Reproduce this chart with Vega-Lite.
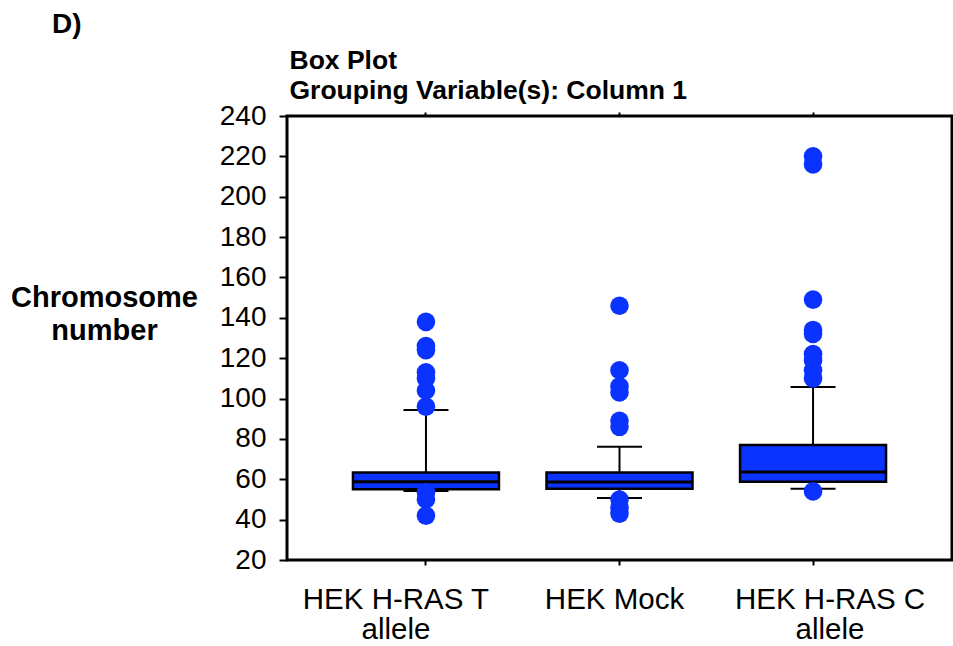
{
  "$schema": "https://vega.github.io/schema/vega-lite/v6.json",
  "width": 665,
  "height": 444,
  "autosize": "none",
  "padding": {"left": 287, "top": 116, "right": 1, "bottom": 86},
  "background": "white",
  "config": {
    "view": {"stroke": "black", "strokeWidth": 3},
    "font": "Liberation Sans"
  },
  "title": {
    "text": "D)",
    "anchor": "start",
    "frame": "group",
    "dx": -235,
    "offset": 8,
    "font": "Liberation Sans",
    "fontSize": 28,
    "fontWeight": "bold",
    "color": "black"
  },
  "datasets": {
    "summary": [
      {"group": "HEK H-RAS T allele", "lower": 54.2, "q1": 55.0, "median": 58.8, "q3": 63.3, "upper": 94.3},
      {"group": "HEK Mock", "lower": 50.7, "q1": 55.3, "median": 58.7, "q3": 63.3, "upper": 76.1},
      {"group": "HEK H-RAS C allele", "lower": 55.3, "q1": 58.8, "median": 63.6, "q3": 77.0, "upper": 105.7}
    ],
    "outliers": [
      {"group": "HEK H-RAS T allele", "value": 138},
      {"group": "HEK H-RAS T allele", "value": 126},
      {"group": "HEK H-RAS T allele", "value": 124},
      {"group": "HEK H-RAS T allele", "value": 113},
      {"group": "HEK H-RAS T allele", "value": 110},
      {"group": "HEK H-RAS T allele", "value": 104},
      {"group": "HEK H-RAS T allele", "value": 96},
      {"group": "HEK H-RAS T allele", "value": 53.5},
      {"group": "HEK H-RAS T allele", "value": 50},
      {"group": "HEK H-RAS T allele", "value": 42},
      {"group": "HEK Mock", "value": 146},
      {"group": "HEK Mock", "value": 114},
      {"group": "HEK Mock", "value": 106},
      {"group": "HEK Mock", "value": 103},
      {"group": "HEK Mock", "value": 89},
      {"group": "HEK Mock", "value": 86},
      {"group": "HEK Mock", "value": 50},
      {"group": "HEK Mock", "value": 46},
      {"group": "HEK Mock", "value": 43},
      {"group": "HEK H-RAS C allele", "value": 220},
      {"group": "HEK H-RAS C allele", "value": 216},
      {"group": "HEK H-RAS C allele", "value": 149},
      {"group": "HEK H-RAS C allele", "value": 134},
      {"group": "HEK H-RAS C allele", "value": 132},
      {"group": "HEK H-RAS C allele", "value": 122},
      {"group": "HEK H-RAS C allele", "value": 119},
      {"group": "HEK H-RAS C allele", "value": 114},
      {"group": "HEK H-RAS C allele", "value": 110},
      {"group": "HEK H-RAS C allele", "value": 54}
    ]
  },
  "layer": [
    {
      "data": {"name": "summary"},
      "mark": {"type": "rule", "color": "black", "strokeWidth": 2},
      "encoding": {
        "x": {
          "field": "group", "type": "nominal",
          "sort": ["HEK H-RAS T allele", "HEK Mock", "HEK H-RAS C allele"],
          "scale": {"type": "band", "paddingInner": 0, "paddingOuter": 0.218},
          "axis": {
            "orient": "bottom",
            "title": null,
            "domain": false,
            "ticks": true,
            "tickSize": 5,
            "tickWidth": 2,
            "tickColor": "black",
            "labelAngle": 0,
            "labelFont": "Liberation Sans",
            "labelFontSize": 29.5,
            "labelColor": "black",
            "labelPadding": 20,
            "labelLineHeight": 30,
            "labelLimit": 400,
            "labelOffset": {
              "condition": [
                {"test": "datum.value == 'HEK H-RAS T allele'", "value": -30},
                {"test": "datum.value == 'HEK Mock'", "value": -5}
              ],
              "value": 17
            },
            "labelExpr": "datum.label == 'HEK Mock' ? datum.label : [replace(datum.label, ' allele', ''), 'allele']"
          }
        },
        "y": {
          "field": "lower", "type": "quantitative",
          "scale": {"domain": [20, 240], "nice": false, "zero": false},
          "axis": {
            "orient": "left",
            "values": [20, 30, 40, 50, 60, 70, 80, 90, 100, 110, 120, 130, 140, 150, 160, 170, 180, 190, 200, 210, 220, 230, 240],
            "labelExpr": "datum.value % 20 === 0 ? datum.label : ''",
            "tickSize": {"condition": {"test": "datum.value % 20 === 0", "value": 8}, "value": 5},
            "tickWidth": 2,
            "tickColor": "black",
            "domain": false,
            "grid": false,
            "labelFont": "Liberation Sans",
            "labelFontSize": 28,
            "labelColor": "black",
            "labelPadding": 13,
            "title": ["Chromosome", "number"],
            "titleFont": "Liberation Sans",
            "titleFontSize": 29,
            "titleFontWeight": "bold",
            "titleColor": "black",
            "titleAngle": 0,
            "titleAlign": "center",
            "titleBaseline": "alphabetic",
            "titleX": -183,
            "titleY": 190,
            "titleLineHeight": 33
          }
        },
        "y2": {"field": "upper"}
      }
    },
    {
      "data": {"name": "summary"},
      "mark": {"type": "tick", "color": "black", "size": 45, "thickness": 2, "opacity": 1},
      "encoding": {
        "x": {
          "field": "group", "type": "nominal",
          "sort": ["HEK H-RAS T allele", "HEK Mock", "HEK H-RAS C allele"],
          "axis": {
            "orient": "top",
            "title": ["Box Plot", "Grouping Variable(s): Column 1"],
            "labels": false,
            "domain": false,
            "tickSize": 4,
            "tickWidth": 2,
            "tickColor": "black",
            "titleFont": "Liberation Sans",
            "titleFontSize": 26.5,
            "titleFontWeight": "bold",
            "titleColor": "black",
            "titleAngle": 0,
            "titleAlign": "left",
            "titleBaseline": "alphabetic",
            "titleX": 2,
            "titleY": -48,
            "titleLineHeight": 30
          }
        },
        "y": {"field": "lower", "type": "quantitative"}
      }
    },
    {
      "data": {"name": "summary"},
      "mark": {"type": "tick", "color": "black", "size": 45, "thickness": 2, "opacity": 1},
      "encoding": {
        "x": {"field": "group", "type": "nominal", "sort": ["HEK H-RAS T allele", "HEK Mock", "HEK H-RAS C allele"], "axis": null},
        "y": {"field": "upper", "type": "quantitative"}
      }
    },
    {
      "data": {"name": "summary"},
      "mark": {"type": "bar", "width": 146, "fill": "#0b33ff", "stroke": "black", "strokeWidth": 2.5, "opacity": 1},
      "encoding": {
        "x": {"field": "group", "type": "nominal", "sort": ["HEK H-RAS T allele", "HEK Mock", "HEK H-RAS C allele"], "axis": null},
        "y": {"field": "q1", "type": "quantitative"},
        "y2": {"field": "q3"}
      }
    },
    {
      "data": {"name": "summary"},
      "mark": {"type": "tick", "color": "black", "size": 146, "thickness": 3, "opacity": 1},
      "encoding": {
        "x": {"field": "group", "type": "nominal", "sort": ["HEK H-RAS T allele", "HEK Mock", "HEK H-RAS C allele"], "axis": null},
        "y": {"field": "median", "type": "quantitative"}
      }
    },
    {
      "data": {"name": "outliers"},
      "mark": {"type": "circle", "size": 346, "color": "#0b33ff", "opacity": 1},
      "encoding": {
        "x": {"field": "group", "type": "nominal", "sort": ["HEK H-RAS T allele", "HEK Mock", "HEK H-RAS C allele"], "axis": null},
        "y": {"field": "value", "type": "quantitative"}
      }
    }
  ],
  "resolve": {"axis": {"x": "independent"}}
}
